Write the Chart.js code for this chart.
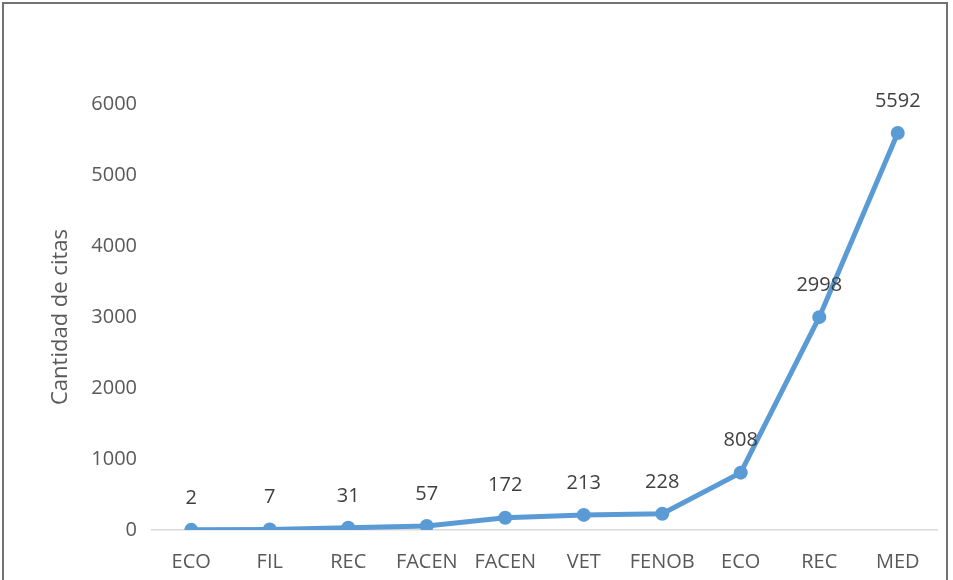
<!DOCTYPE html>
<html>
<head>
<meta charset="utf-8">
<script src="https://cdn.jsdelivr.net/npm/chart.js@4"></script>
<style>
  body { margin: 0; background: #fff; overflow: hidden; }
  #wrap { position: relative; width: 953px; height: 580px; }
  #frame { position: absolute; left: 2px; top: 2px; width: 946px; height: 620px; border: 2px solid #727272; box-sizing: border-box; }
  canvas { position: absolute; left: 0; top: 0; }
</style>
</head>
<body>
<div id="wrap">
  <div id="frame"></div>
  <canvas id="citas" width="953" height="580"></canvas>
</div>
<script>
// categorias y valores
const categories = ['ECO', 'FIL', 'REC', 'FACEN', 'FACEN', 'VET', 'FENOB', 'ECO', 'REC', 'MED'];
const citas = [2, 7, 31, 57, 172, 213, 228, 808, 2998, 5592];
const yTicks = [0, 1000, 2000, 3000, 4000, 5000, 6000];

const FONT = "'Open Sans', sans-serif";

// etiquetas de valor encima de cada punto
const valueLabels = {
  id: 'valueLabels',
  afterDatasetsDraw(chart) {
    const ctx = chart.ctx;
    const meta = chart.getDatasetMeta(0);
    ctx.save();
    ctx.font = '20px ' + FONT;
    ctx.fillStyle = '#404040';
    ctx.textAlign = 'center';
    ctx.textBaseline = 'middle';
    meta.data.forEach((pt, i) => {
      ctx.fillText(String(citas[i]), pt.x, pt.y - 32);
    });
    ctx.restore();
  }
};

new Chart(document.getElementById('citas'), {
  type: 'line',
  data: {
    labels: categories,
    datasets: [{
      data: citas,
      borderColor: '#5B9BD5',
      backgroundColor: '#5B9BD5',
      borderWidth: 5,
      pointRadius: 7,
      pointHoverRadius: 7,
      pointBorderWidth: 0,
      tension: 0,
      fill: false
    }]
  },
  options: {
    responsive: false,
    animation: false,
    layout: { padding: { left: 44, top: 104, right: 16, bottom: 0 } },
    plugins: { legend: { display: false }, tooltip: { enabled: false } },
    scales: {
      x: {
        offset: true,
        grid: { display: false, drawTicks: false },
        border: { display: true, color: '#d9d9d9', width: 1.5 },
        ticks: { color: '#595959', font: { family: FONT, size: 20 }, padding: 20, maxRotation: 0, autoSkip: false },
        afterFit: s => { s.height = 50; }
      },
      y: {
        min: 0,
        max: 6000,
        afterBuildTicks: s => { s.ticks = yTicks.map(v => ({ value: v })); },
        grid: { display: false, drawTicks: false },
        border: { display: false },
        ticks: { color: '#595959', font: { family: FONT, size: 20 }, padding: 15, callback: v => String(v) },
        title: { display: true, text: 'Cantidad de citas', color: '#595959', font: { family: FONT, size: 22 }, padding: { top: 4, bottom: 4 } },
        afterFit: s => { s.width = 108; }
      }
    }
  },
  plugins: [valueLabels]
});
</script>
</body>
</html>
